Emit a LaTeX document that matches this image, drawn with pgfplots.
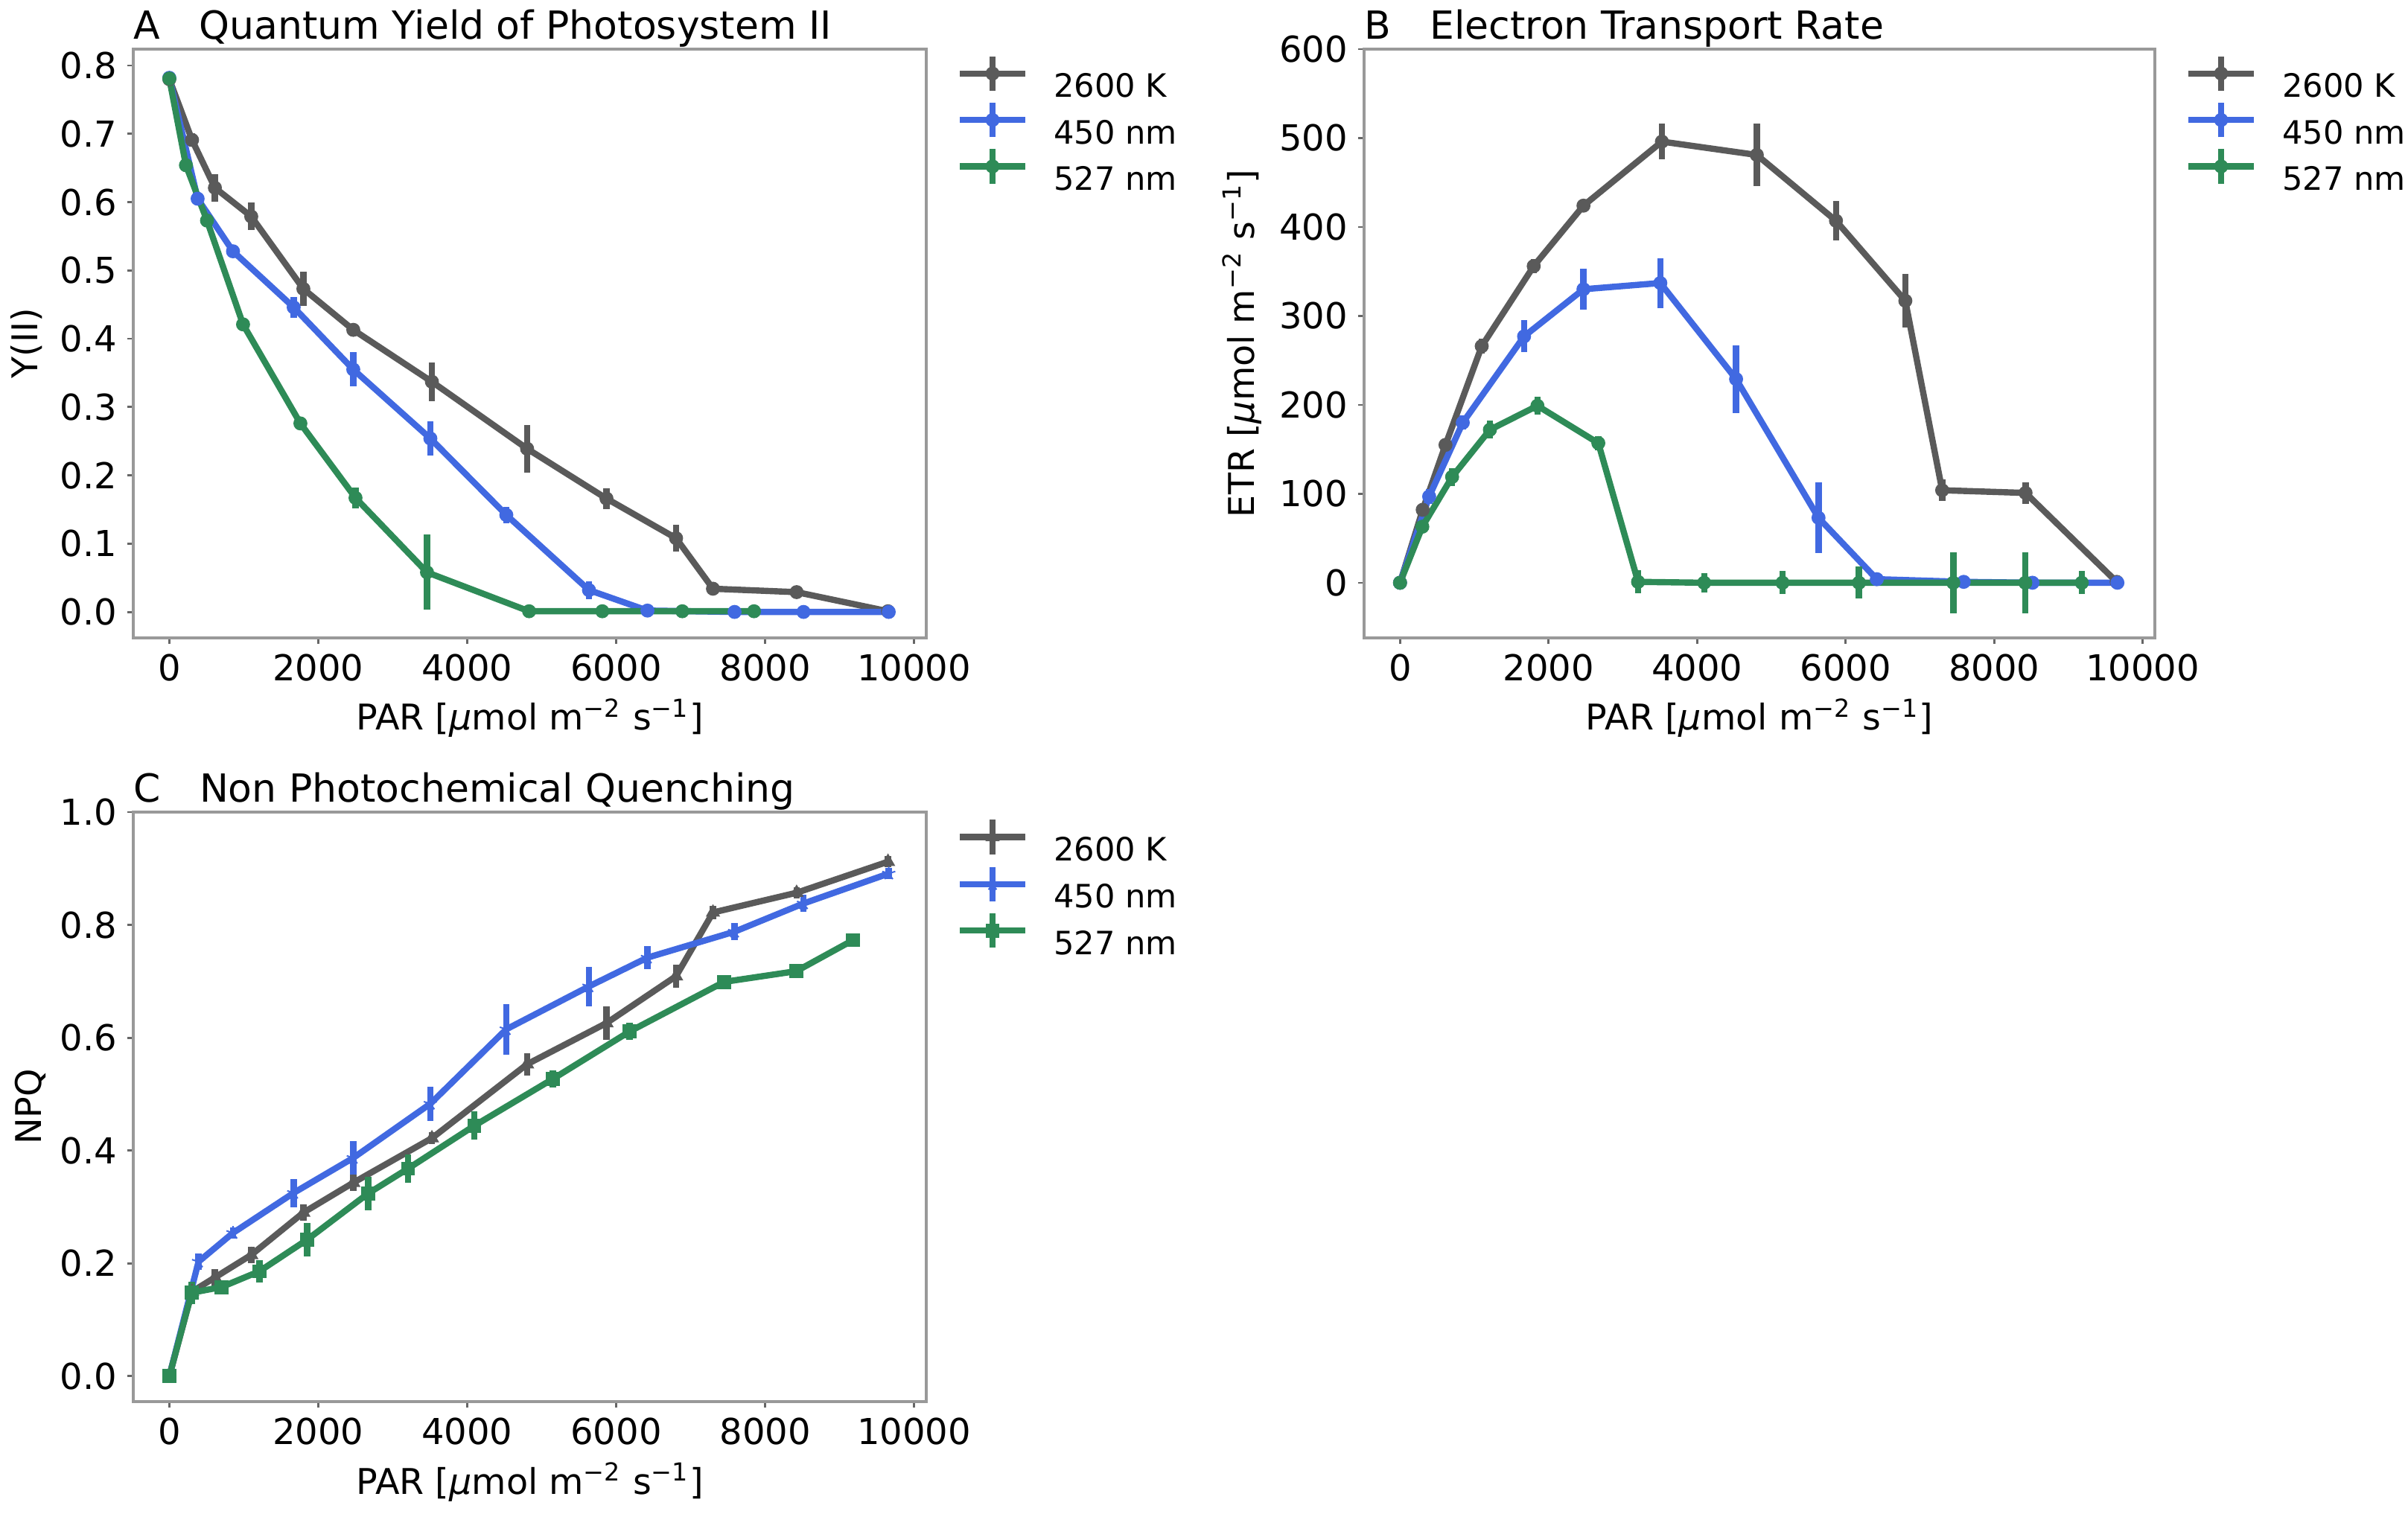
\documentclass[border=0pt]{standalone}
\usepackage{fontspec}
\setmainfont{DejaVu Sans}
\usepackage{pgfplots}
\pgfplotsset{compat=1.18}
\usetikzlibrary{plotmarks}
\definecolor{cgrey}{RGB}{90,90,90}
\definecolor{cblue}{RGB}{65,105,225}
\definecolor{cgreen}{RGB}{46,139,87}
\newcommand{\parlabel}{PAR [\textit{μ}mol m\textsuperscript{−2} s\textsuperscript{−1}]}
\pgfplotsset{
 panel/.style={
   scale only axis, width=266.25pt, height=197.75pt,
   anchor=south west,
   xmin=-484, xmax=10164,
   xtick={0,2000,4000,6000,8000,10000},
   scaled x ticks=false,
   axis line style={draw=black!40, line width=0.8pt},
   tick style={draw=black!60, line width=0.7pt},
   major tick length=2pt, tick align=outside,
   xtick pos=bottom, ytick pos=left,
   /pgf/number format/assume math mode=true,
   /pgf/number format/1000 sep={},
   ticklabel style={font=\fontsize{12}{14}\selectfont},
   label style={font=\fontsize{11.9}{14}\selectfont},
   every axis title shift=0pt,
   title style={font=\fontsize{13}{15}\selectfont, at={([yshift=3.4pt]axis description cs:0,1)}, anchor=base west, inner sep=0pt},
   xlabel={\parlabel},
   xlabel style={at={([yshift=-31pt]axis description cs:0.5,0)}, anchor=base, inner sep=0pt},
   legend style={at={([xshift=7pt,yshift=-3.9pt]axis description cs:1,1)}, anchor=north west, draw=none, fill=none,
     font=\fontsize{10.8}{13}\selectfont,
     nodes={inner sep=0pt, text height=8pt, text depth=0pt},
     row sep=5.5pt,
     /tikz/every odd column/.append style={column sep=8.5pt}},
   legend cell align=left,
   legend image code/.code={
     \draw[##1, mark=none, overlay] (11pt,-1.8pt) -- (11pt,9.8pt);
     \draw[mark repeat=2, mark phase=2, ##1] plot coordinates {(0pt,4pt) (11pt,4pt) (22pt,4pt)};
   },
   error bars/error bar style={line width=2.1pt},
   error bars/error mark=none,
 },
 ser/.style={line width=2.1pt, color=#1, mark options={solid, fill=#1, draw=#1, line width=0.5pt},
   error bars/y dir=both, error bars/y explicit},
}
\begin{document}
\begin{tikzpicture}
\path[use as bounding box] (0,0) rectangle (808.5pt,508.5pt);

% ---------------- A ----------------
\begin{axis}[panel, at={(44.75pt,294.25pt)},
  ymin=-0.038, ymax=0.824,
  ytick={0,0.1,0.2,0.3,0.4,0.5,0.6,0.7,0.8},
  yticklabel style={/pgf/number format/.cd, fixed, fixed zerofill, precision=1},
  title={A\hspace{13pt}Quantum Yield of Photosystem II},
  ylabel={Y(II)},
  ylabel style={at={([xshift=-35.75pt]axis description cs:0,0.5)}, anchor=center},
]
\addplot[ser=cgrey, mark=*, mark size=2.1pt] table[x=x,y=y,y error=e] {
x y e
0 0.780 0.005
305 0.691 0.010
612 0.621 0.020
1100 0.579 0.020
1800 0.473 0.025
2470 0.413 0.008
3526 0.337 0.028
4804 0.239 0.035
5870 0.166 0.015
6804 0.108 0.020
7300 0.034 0.008
8423 0.029 0.006
9650 0.001 0.003
};
\addlegendentry{2600 K}
\addplot[ser=cblue, mark=*, mark size=2.1pt] table[x=x,y=y,y error=e] {
x y e
0 0.782 0.005
380 0.605 0.008
855 0.528 0.006
1670 0.446 0.015
2470 0.355 0.025
3505 0.254 0.025
4525 0.142 0.012
5635 0.032 0.013
6420 0.002 0.004
7590 0.000 0.002
8516 0.000 0.002
9660 0.000 0.004
};
\addlegendentry{450 nm}
\addplot[ser=cgreen, mark=*, mark size=2.1pt] table[x=x,y=y,y error=e] {
x y e
0 0.781 0.005
223 0.654 0.008
506 0.573 0.008
990 0.421 0.005
1760 0.276 0.005
2500 0.167 0.015
3460 0.058 0.055
4831 0.001 0.003
5814 0.001 0.003
6888 0.001 0.003
7851 0.001 0.003
};
\addlegendentry{527 nm}
\end{axis}

% ---------------- B ----------------
\begin{axis}[panel, at={(458pt,294.25pt)}, width=265.5pt,
  ymin=-62, ymax=600,
  ytick={0,100,200,300,400,500,600},
  title={B\hspace{13pt}Electron Transport Rate},
  ylabel={ETR [\textit{μ}mol m\textsuperscript{−2} s\textsuperscript{−1}]},
  ylabel style={at={([xshift=-41pt]axis description cs:0,0.5)}, anchor=center},
]
\addplot[ser=cgrey, mark=*, mark size=2.1pt] table[x=x,y=y,y error=e] {
x y e
0 0 3
305 82 5
612 155 6
1100 266 8
1800 356 8
2470 424 6
3526 496 20
4804 481 35
5870 407 22
6804 317 30
7300 104 12
8423 101 12
9650 1 3
};
\addlegendentry{2600 K}
\addplot[ser=cblue, mark=*, mark size=2.1pt] table[x=x,y=y,y error=e] {
x y e
0 0 3
392 97 8
845 180 8
1670 277 18
2470 330 23
3505 337 28
4525 229 38
5635 73 40
6420 4 4
7590 1 3
8516 0 3
9660 0 3
};
\addlegendentry{450 nm}
\addplot[ser=cgreen, mark=*, mark size=2.1pt] table[x=x,y=y,y error=e] {
x y e
0 0 3
300 63 6
701 119 10
1210 172 10
1850 199 10
2670 157 8
3205 1 13
4095 0 11
5150 0 13
6180 0 18
7450 0 34
8420 0 34
9180 0 13
};
\addlegendentry{527 nm}
\end{axis}

% ---------------- C ----------------
\begin{axis}[panel, at={(44.75pt,37.75pt)}, height=198pt,
  ymin=-0.045, ymax=1.0,
  ytick={0,0.2,0.4,0.6,0.8,1.0},
  yticklabel style={/pgf/number format/.cd, fixed, fixed zerofill, precision=1},
  title={C\hspace{13pt}Non Photochemical Quenching},
  ylabel={NPQ},
  ylabel style={at={([xshift=-34.5pt]axis description cs:0,0.5)}, anchor=center},
]
\addplot[ser=cgrey, mark=triangle*, mark size=2.3pt] table[x=x,y=y,y error=e] {
x y e
0 0.000 0.005
305 0.150 0.010
612 0.175 0.015
1100 0.215 0.015
1800 0.290 0.015
2470 0.343 0.015
3526 0.422 0.010
4804 0.553 0.020
5870 0.626 0.030
6804 0.709 0.020
7300 0.822 0.012
8423 0.857 0.010
9650 0.912 0.010
};
\addlegendentry{2600 K}
\addplot[ser=cblue, mark=star, mark size=2.3pt] table[x=x,y=y,y error=e] {
x y e
0 0.000 0.005
392 0.203 0.015
855 0.254 0.010
1670 0.325 0.025
2470 0.387 0.030
3505 0.483 0.030
4525 0.615 0.045
5635 0.691 0.035
6420 0.742 0.020
7590 0.788 0.015
8516 0.838 0.015
9660 0.891 0.010
};
\addlegendentry{450 nm}
\addplot[ser=cgreen, mark=square*, mark size=2.1pt] table[x=x,y=y,y error=e] {
x y e
0 0.000 0.008
300 0.148 0.020
701 0.158 0.012
1210 0.186 0.020
1850 0.242 0.030
2670 0.324 0.030
3205 0.368 0.025
4095 0.444 0.025
5150 0.527 0.015
6180 0.611 0.015
7450 0.699 0.010
8420 0.718 0.008
9180 0.773 0.008
};
\addlegendentry{527 nm}
\end{axis}
\end{tikzpicture}
\end{document}
